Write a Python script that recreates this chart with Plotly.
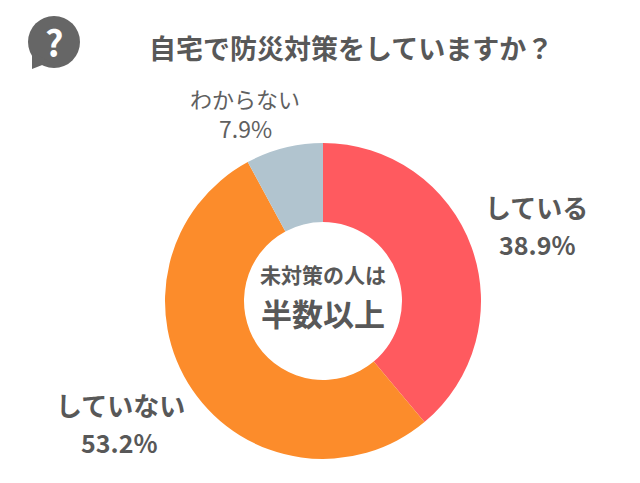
import plotly.graph_objects as go

categories = ["している", "していない", "わからない"]
values = [38.9, 53.2, 7.9]
colors = ["#FF5A5F", "#FC8C2B", "#B1C4CF"]
title = "自宅で防災対策をしていますか？"
center = ["未対策の人は", "半数以上"]
FONT = "Noto Sans CJK JP"
GREY = "#585858"
OFF = 8  # page margin around the figure

def px(x):
    return (x - OFF) / 640
def py(y):
    return 1 - (y - OFF) / 483

fig = go.Figure(go.Pie(
    labels=categories, values=values, hole=0.5, sort=False, direction="clockwise",
    rotation=0, marker=dict(colors=colors, line=dict(width=0)), textinfo="none",
    domain=dict(x=[px(165), px(481)], y=[py(459), py(143)]), showlegend=False,
))
def t(x, y, s, size, bold=True, color=GREY):
    fig.add_annotation(x=px(x), y=py(y), xref="paper", yref="paper", text=f"<b>{s}</b>" if bold else s,
                       showarrow=False, font=dict(family=FONT, size=size, color=color), xanchor="center", yanchor="middle")
t(351, 48, title, 27)
t(536, 207, categories[0], 26)
t(537, 244, f"{values[0]}%", 25)
t(120, 404, categories[1], 26)
t(119, 442, f"{values[1]}%", 25)
t(245, 98, categories[2], 22, False, "#606060")
t(245, 128, f"{values[2]}%", 23, False, "#606060")
t(323, 274, center[0], 21)
t(323, 312, center[1], 31)
# Question-mark badge
fig.add_shape(type="circle", xref="paper", yref="paper", x0=px(28), x1=px(80), y0=py(68), y1=py(16),
              fillcolor="#666666", line_width=0)
fig.add_shape(type="path", xref="paper", yref="paper",
              path=f"M {px(32)} {py(52)} L {px(32)} {py(69)} L {px(50)} {py(62)} Z", fillcolor="#666666", line_width=0)
t(54, 41, "?", 36, True, "#FFFFFF")
fig.update_layout(width=640, height=483, margin=dict(l=0, r=0, t=0, b=0), paper_bgcolor="white")
fig.write_html("out.html")
